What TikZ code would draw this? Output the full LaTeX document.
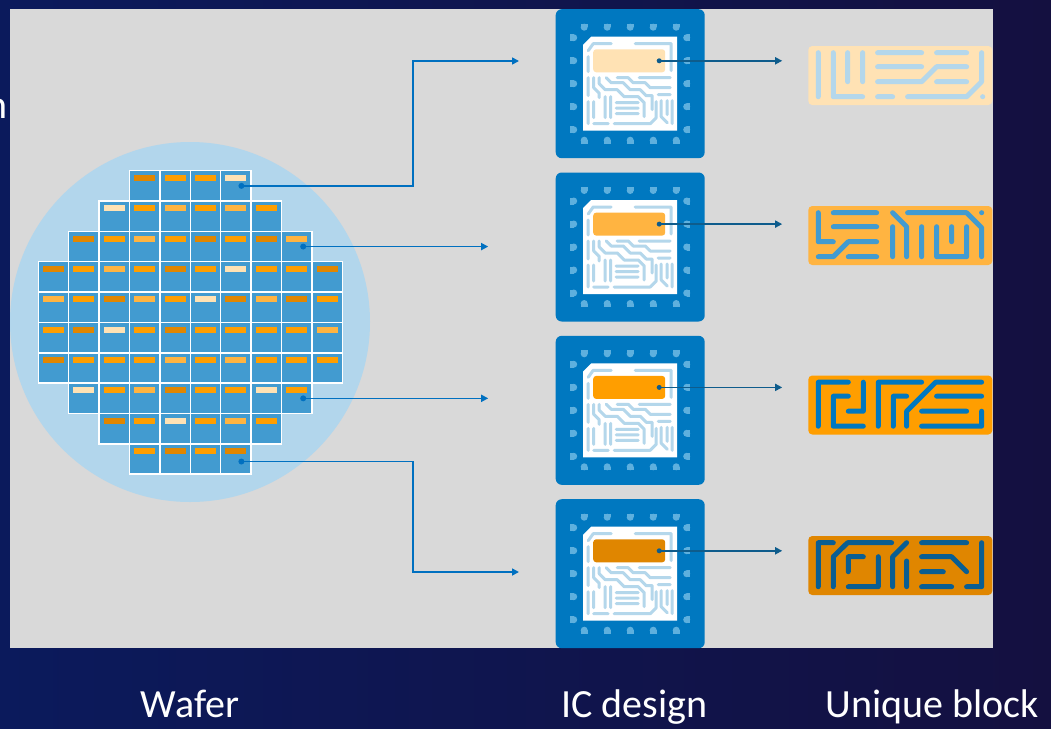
\documentclass[tikz,border=0pt]{standalone}
\usepackage{fontspec}
\setmainfont{Carlito}
\usetikzlibrary{positioning,calc,arrows.meta}

\definecolor{navy}{RGB}{11,26,92}
\definecolor{navydeep}{RGB}{20,16,64}
\definecolor{panel}{RGB}{217,217,217}
\definecolor{waferblue}{RGB}{178,214,236}
\definecolor{dieblue}{RGB}{66,155,208}
\definecolor{chipblue}{RGB}{0,120,192}
\definecolor{padblue}{RGB}{94,176,222}
\definecolor{traceblue}{RGB}{180,215,235}
\definecolor{wireblue}{RGB}{0,112,192}
\definecolor{wiredark}{RGB}{14,92,140}
\definecolor{inkblue}{RGB}{10,94,146}
\definecolor{pl}{RGB}{255,226,180}
\definecolor{lt}{RGB}{255,180,65}
\definecolor{md}{RGB}{255,158,0}
\definecolor{dk}{RGB}{224,134,0}

\begin{document}
\begin{tikzpicture}[
	x=1pt, y=-1pt,
	every node/.style = {inner sep=0, outer sep=0},
	die/.style = {draw=white, line width=1.5pt, fill=dieblue, minimum size=30.4pt},
	chip/.style = {fill=chipblue, rounded corners=6pt, minimum size=149pt},
	core/.style = {rounded corners=3pt, minimum width=72pt, minimum height=23pt},
	block/.style = {rounded corners=4pt, minimum width=184pt, minimum height=59pt},
	trace/.style = {draw=traceblue, line width=3pt, line cap=round, line join=round},
	track/.style = {line width=5pt, line cap=round, line join=round},
	link/.style = {draw=wireblue, line width=1.6pt, -{Triangle[length=7pt,width=7pt]}},
	feed/.style = {draw=wiredark, line width=1.6pt, -{Triangle[length=7pt,width=7pt]}},
	heading/.style = {text=white, font=\fontsize{40}{46}\selectfont, anchor=base}
]

% backdrop
\fill[left color=navy, right color=navydeep] (0,0) rectangle (1051,728);
\useasboundingbox (0,0) rectangle (1051,728);
\node[heading, anchor=base east] (cut) at (8,118) {n};
\fill[panel] (10,9) rectangle (993,648);

% wafer with its dies
\fill[waferblue] (190,322) circle (180pt);
\foreach \row/\first/\cols in {
	0/3/{dk,md,md,pl},
	1/2/{pl,md,lt,md,lt,md},
	2/1/{dk,md,lt,md,dk,md,dk,lt},
	3/0/{dk,md,lt,md,dk,md,pl,md,md,dk},
	4/0/{lt,md,dk,lt,md,pl,dk,lt,dk,md},
	5/0/{md,dk,pl,md,dk,md,md,md,md,lt},
	6/0/{dk,md,md,md,lt,md,lt,md,md,md},
	7/1/{pl,md,lt,dk,md,md,pl,md},
	8/2/{dk,md,pl,md,lt,md},
	9/3/{md,dk,md,dk}}
	\foreach \k [count=\col from \first] in \cols {
		\node[die] (d\row-\col) at ({38.3+30.4*(\col+0.5)},{170.7+30.35*(\row+0.5)}) {};
		\fill[\k] ($(d\row-\col)+(-10.5,-10.9)$) rectangle +(21,6);
	}

\coordinate (p1) at ($(d0-6)+(5.5,0)$);
\coordinate (p2) at ($(d2-8)+(6.5,0)$);
\coordinate (p3) at ($(d7-8)+(6.5,0)$);
\coordinate (p4) at ($(d9-6)+(5.5,2.5)$);
\coordinate (k1) at (413,61);
\coordinate (e1) at (519,61);
\coordinate (e2) at ($(p2)+(185,0)$);
\coordinate (e3) at ($(p3)+(185,0)$);
\coordinate (k4) at (413,572);
\coordinate (e4) at (519,572);

\draw[link] (p1) -| (k1) -- (e1);
\draw[link] (p2) -- (e2);
\draw[link] (p3) -- (e3);
\draw[link] (p4) -| (k4) -- (e4);
\foreach \p in {p1,p2,p3,p4}
	\fill[wireblue] (\p) circle (3pt);

% IC designs
\foreach \n/\y/\tone in {1/83.7/pl, 2/247/lt, 3/410.3/md, 4/573.7/dk} {
	\node[chip] (chip\n) at (630.2,\y) {};
	\begin{scope}[shift={(chip\n)}]
		\fill[white] (-47,-39) -- (-39,-47) -- (47,-47) -- (47,47) -- (-47,47) -- cycle;
		% pads, round side facing the die
		\foreach \k in {-2,...,2} {
			\fill[padblue] ({23*\k-3.5},-60) rectangle ++(7,3.5);
			\fill[padblue] ({23*\k},-56.5) circle (3.5pt);
			\fill[padblue] ({23*\k-3.5},60) rectangle ++(7,-3.5);
			\fill[padblue] ({23*\k},56.5) circle (3.5pt);
			\fill[padblue] (-60,{23*\k-3.5}) rectangle ++(3.5,7);
			\fill[padblue] (-56.5,{23*\k}) circle (3.5pt);
			\fill[padblue] (60,{23*\k-3.5}) rectangle ++(-3.5,7);
			\fill[padblue] (56.5,{23*\k}) circle (3.5pt);
		}
		\draw[trace]
			(-42,-33) -- (-37,-40) -- (-19,-40)
			(-42,-27) -- (-42,-12)
			(5,-40) -- (41,-40) -- (41,-13)
			(-42,-6) -- (-42,12)
			(-36.5,-6) -- (-36.5,4) -- (-31,9.5) -- (-31,14)
			(-31,-6) -- (-31,0) -- (-25,6) -- (-13,6) -- (-6,13) -- (8,13) -- (14,19) -- (14,33)
			(-24,-6) -- (-19,-1) -- (-7,-1) -- (0,6) -- (10,6) -- (16,12) -- (22,12) -- (22,26)
			(-13,-6) -- (-2,-6) -- (3,-1) -- (15,-1) -- (20,4) -- (40,4)
			(9,-6) -- (40,-6)
			(28,11) -- (40,11)
			(-42,18) -- (-42,40)
			(-36.5,18) -- (-36.5,34)
			(-25,13) -- (-25,34)
			(-19.5,13) -- (-19.5,34)
			(-14,19) -- (8,19)
			(-14,24.5) -- (8,24.5)
			(-14,30) -- (8,30)
			(-36.5,40) -- (-22,40)
			(-16,40) -- (20,40) -- (26,34) -- (26,18)
			(31,17) -- (31,33) -- (37,39)
			(37,17) -- (37,31)
			(42,17) -- (42,40);
		\node[core, fill=\tone] (core\n) at (-1,-22.9) {};
		\coordinate (q\n) at (29,-22.9);
	\end{scope}
	\coordinate (t\n) at ($(q\n)+(123,0)$);
	\draw[feed] (q\n) -- (t\n);
	\fill[wiredark] (q\n) circle (2.5pt);
}

% unique blocks
\node[block, fill=pl] (block1) at (900.3,75.5) {};
\node[block, fill=lt] (block2) at (900.3,235.5) {};
\node[block, fill=md] (block3) at (900.3,405) {};
\node[block, fill=dk] (block4) at (900.3,565.5) {};

\begin{scope}[shift={(block1.north west)}]
	\draw[track, draw=traceblue]
		(10,6.7) -- (10,50.7)
		(25,6.7) -- (25,50.7) -- (54.3,50.7)
		(39.3,6.7) -- (39.3,35.7)
		(54.3,6.7) -- (54.3,35.7)
		(69.3,6.7) -- (113.3,6.7)
		(69.3,20.7) -- (113.3,20.7)
		(69.3,35.7) -- (113.3,35.7) -- (128.3,20.7) -- (158.3,20.7)
		(128.3,6.7) -- (158.3,6.7)
		(128.3,35.7) -- (158.3,35.7)
		(69.3,50.7) -- (84.3,50.7)
		(99.3,50.7) -- (158.3,50.7) -- (173.3,35.7) -- (173.3,6.7)
		(174.3,50.7) -- (174.4,50.7);
\end{scope}

\begin{scope}[shift={(block2.north west)}]
	\draw[track, draw=dieblue]
		(10,6.7) -- (10,35.7) -- (25,35.7)
		(25,6.7) -- (68.3,6.7)
		(25,20.7) -- (68.3,20.7)
		(10,50.7) -- (25,50.7) -- (40,35.7) -- (68.3,35.7)
		(40,50.7) -- (68.3,50.7)
		(84.3,6.7) -- (98.3,20.7) -- (98.3,50.7)
		(84.3,20.7) -- (84.3,50.7)
		(99.3,6.7) -- (158.3,6.7) -- (173.3,21.7) -- (173.3,50.7)
		(113.3,20.7) -- (113.3,50.7)
		(128.3,20.7) -- (128.3,50.7) -- (158.3,50.7) -- (158.3,20.7)
		(143.3,20.7) -- (143.3,35.7)
		(173.3,6.7) -- (173.4,6.7);
\end{scope}

\begin{scope}[shift={(block3.north west)}]
	\draw[track, draw=chipblue]
		(10,50.7) -- (10,6.7) -- (40,6.7)
		(40,20.7) -- (25,20.7) -- (25,50.7) -- (55,50.7)
		(55,6.7) -- (55,35.7) -- (40,35.7)
		(70,50.7) -- (70,6.7) -- (113.3,6.7)
		(85,50.7) -- (85,20.7) -- (98.3,20.7)
		(98.3,50.7) -- (98.3,35.7) -- (127.3,6.7) -- (173.3,6.7)
		(128.3,20.7) -- (173.3,20.7)
		(113.3,35.7) -- (158.3,35.7)
		(113.3,50.7) -- (173.3,50.7) -- (173.3,35.7);
\end{scope}

\begin{scope}[shift={(block4.north west)}]
	\draw[track, draw=inkblue]
		(10,50.7) -- (10,6.7) -- (25,6.7)
		(25,50.7) -- (25,20.7) -- (39.3,6.7) -- (83.3,6.7)
		(40,35.7) -- (40,20.7) -- (55,20.7)
		(40,50.7) -- (70,50.7) -- (70,20.7)
		(84.3,50.7) -- (84.3,20.7) -- (98.3,6.7)
		(98.3,50.7) -- (98.3,25)
		(113.3,6.7) -- (158.3,6.7)
		(113.3,20.7) -- (143.3,20.7) -- (158.3,35.7)
		(113.3,35.7) -- (135,35.7)
		(113.3,50.7) -- (143.3,50.7)
		(173.3,6.7) -- (173.3,50.7) -- (158.3,50.7);
\end{scope}

% captions
\node[heading] (wafer) at (190,717) {Wafer};
\node[heading] (icdesign) at (634.5,717) {IC design};
\node[heading] (unique) at (932.5,717) {Unique block};

\end{tikzpicture}
\end{document}
